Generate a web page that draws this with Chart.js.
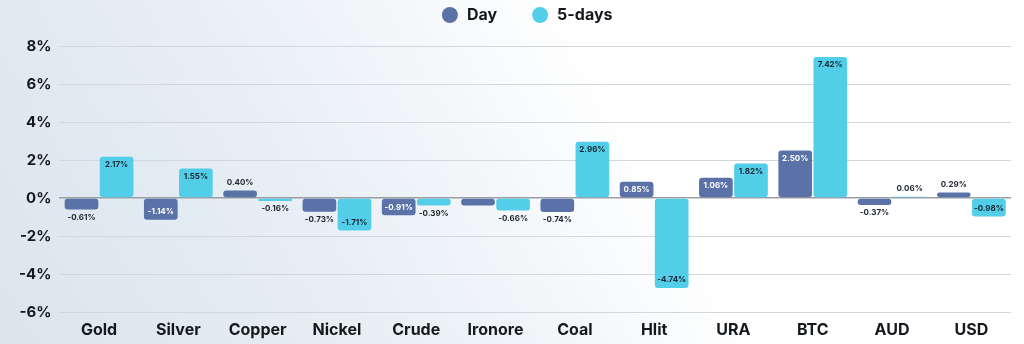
<!DOCTYPE html>
<html>
<head>
<meta charset="utf-8">
<script src="https://cdn.jsdelivr.net/npm/chart.js@4.4.1/dist/chart.umd.min.js"></script>
<style>
  html, body { margin: 0; padding: 0; }
  body {
    width: 1024px; height: 344px; overflow: hidden;
    background: linear-gradient(60deg, #dae5ee 0%, #e7eef4 30%, #f4f7fa 48%, #ffffff 62%);
  }
  #wrap { position: relative; width: 1024px; height: 344px; }
</style>
</head>
<body>
<div id="wrap"><canvas id="myChart"></canvas></div>
<script>
// categories and values (percent)
var categories = ['Gold', 'Silver', 'Copper', 'Nickel', 'Crude', 'Ironore', 'Coal', 'Hlit', 'URA', 'BTC', 'AUD', 'USD'];
var dayValues = [-0.61, -1.14, 0.40, -0.73, -0.91, -0.40, -0.74, 0.85, 1.06, 2.50, -0.37, 0.29];
var fiveDayValues = [2.17, 1.55, -0.16, -1.71, -0.39, -0.66, 2.96, -4.74, 1.82, 7.42, 0.06, -0.98];
var yTicks = [-6, -4, -2, 0, 2, 4, 6, 8];
// the Ironore day bar carries no label in the picture
var dayHidden = [5];

var FONT = 'Inter, "DejaVu Sans", sans-serif';
var TEXT = '#15181d';

// value labels: inside the bar end when the bar is big enough, outside otherwise
var valueLabels = {
    id: 'valueLabels',
    afterDatasetsDraw: function(chart) {
        var ctx = chart.ctx;
        ctx.save();
        ctx.font = 'bold 8px ' + FONT;
        ctx.textAlign = 'center';
        ctx.textBaseline = 'middle';
        chart.data.datasets.forEach(function(ds, di) {
            var meta = chart.getDatasetMeta(di);
            meta.data.forEach(function(bar, i) {
                if (di === 0 && dayHidden.indexOf(i) >= 0) return;
                var v = ds.data[i];
                var up = v >= 0;
                var inside = Math.abs(v) >= 0.8;
                var y;
                if (inside) {
                    y = bar.y + (up ? 8 : -8);
                    ctx.fillStyle = di === 0 ? '#ffffff' : '#1b2430';
                } else {
                    y = bar.y + (up ? -8 : 8);
                    ctx.fillStyle = '#1b2430';
                }
                ctx.fillText(v.toFixed(2) + '%', bar.x, y);
            });
        });
        ctx.restore();
    }
};

// simple legend at the top: dot + bold label
var topLegend = {
    id: 'topLegend',
    afterDraw: function(chart) {
        var ctx = chart.ctx;
        var area = chart.chartArea;
        ctx.save();
        ctx.font = 'bold 16px ' + FONT;
        ctx.textBaseline = 'middle';
        ctx.textAlign = 'left';
        var items = chart.data.datasets.map(function(ds) {
            return { text: ds.label, color: ds.backgroundColor, w: ctx.measureText(ds.label).width };
        });
        var gap = 35;
        var total = 0;
        items.forEach(function(it, i) { total += 25 + it.w + (i ? gap : 0); });
        var x = (area.left + area.right) / 2 - 8 - total / 2;
        var y = 15;
        items.forEach(function(it) {
            ctx.fillStyle = it.color;
            ctx.beginPath();
            ctx.arc(x + 8, y, 8, 0, Math.PI * 2);
            ctx.fill();
            ctx.fillStyle = TEXT;
            ctx.fillText(it.text, x + 25, y);
            x += 25 + it.w + gap;
        });
        ctx.restore();
    }
};

var ctx = document.getElementById('myChart').getContext('2d');
var myChart = new Chart(ctx, {
    type: 'bar',
    data: {
        labels: categories,
        datasets: [{
            label: 'Day',
            data: dayValues,
            backgroundColor: '#5a72a8',
            borderRadius: 3,
            borderSkipped: false,
            categoryPercentage: 0.885,
            barPercentage: 0.96
        }, {
            label: '5-days',
            data: fiveDayValues,
            backgroundColor: '#52cee8',
            borderRadius: 3,
            borderSkipped: false,
            categoryPercentage: 0.885,
            barPercentage: 0.96
        }]
    },
    options: {
        responsive: true,
        maintainAspectRatio: false,
        animation: false,
        layout: { padding: { left: 11, right: 13, top: 46, bottom: 4 } },
        plugins: {
            tooltip: { enabled: false },
            legend: { display: false }
        },
        scales: {
            x: {
                grid: { display: false, drawTicks: false },
                border: { display: false },
                afterFit: function(axis) { axis.height = 28; },
                ticks: {
                    color: TEXT,
                    padding: 9,
                    font: { family: FONT, size: 16, weight: 'bold' }
                }
            },
            y: {
                min: -6,
                max: 8,
                afterBuildTicks: function(axis) {
                    axis.ticks = yTicks.map(function(v) { return { value: v }; });
                },
                border: { display: false },
                grid: {
                    color: function(c) { return c.tick && c.tick.value === 0 ? '#9a9ea4' : '#d3d6da'; },
                    lineWidth: function(c) { return c.tick && c.tick.value === 0 ? 1.5 : 1; },
                    drawTicks: false
                },
                ticks: {
                    color: TEXT,
                    padding: 8,
                    font: { family: FONT, size: 15, weight: 'bold' },
                    callback: function(v) { return v + '%'; }
                }
            }
        }
    },
    plugins: [valueLabels, topLegend]
});
</script>
</body>
</html>
